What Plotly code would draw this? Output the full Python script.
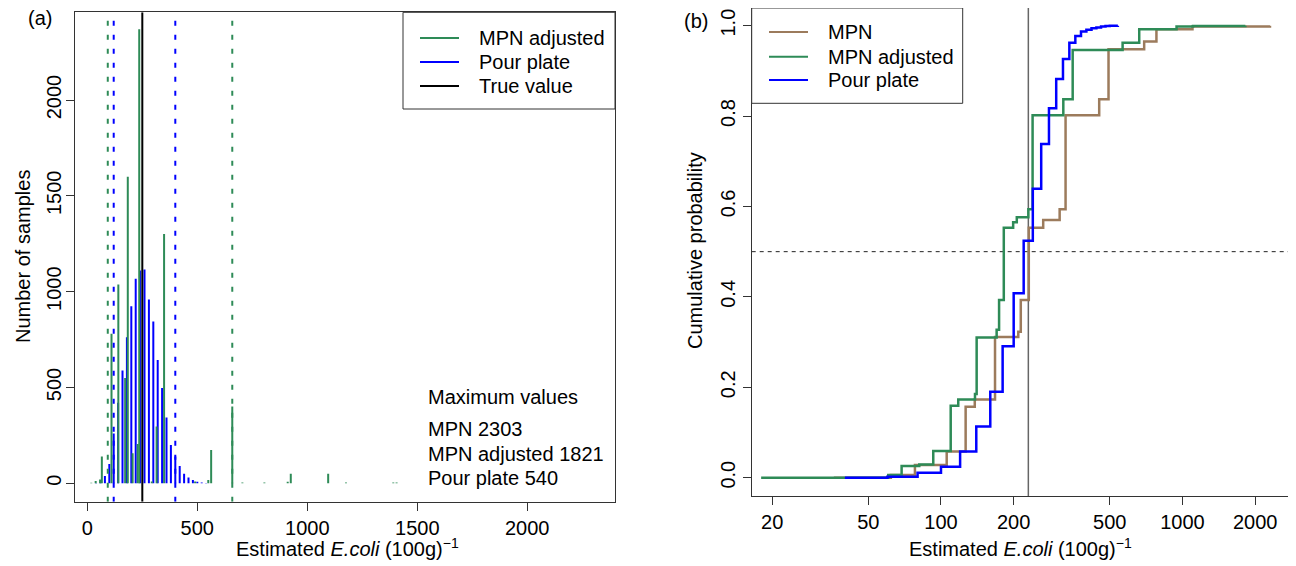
import plotly.graph_objects as go

# The page body has an 8px margin, so the figure is offset by 8px.
OFF = 8
W, H = 1296 - OFF, 566 - OFF


def px(x):
    return (x - OFF) / W


def py(y):
    return 1 - (y - OFF) / H


GREEN = "#2E8B57"
BLUE = "#0000FF"
BROWN = "#9C7B5C"
FONT = "Liberation Sans, Arial, sans-serif"
FS = 20

# ---------------- Panel (a): histogram of estimates ----------------
adj_values = [18, 38, 58, 66, 110, 141, 172, 184, 206, 229, 236, 293, 315, 349,
              490, 550, 563, 659, 705, 805, 911, 925, 1095, 1176, 1391, 1406, 1821]
adj_counts = [3, 12, 20, 140, 780, 1038, 549, 1600, 157, 205, 2370, 10, 296, 1301,
              10, 17, 174, 401, 4, 4, 8, 50, 50, 4, 4, 4, 1]

pour_values = [40, 60, 80, 100, 120, 140, 160, 180, 200, 220, 240, 260, 280, 300,
               320, 340, 360, 380, 400, 420, 440, 460, 480, 500, 520, 540]
pour_counts = [1, 5, 38, 101, 260, 420, 589, 762, 924, 1067, 1110, 1116, 959, 845,
               643, 497, 344, 200, 140, 90, 50, 30, 17, 8, 4, 2]

adj_interval = [93, 659]
pour_interval = [120, 400]
true_value_a = 250

legend_a_labels = ["MPN adjusted", "Pour plate", "True value"]
legend_b_labels = ["MPN", "MPN adjusted", "Pour plate"]
max_labels = ["Maximum values", "MPN 2303", "MPN adjusted 1821", "Pour plate 540"]

# ---------------- Panel (b): cumulative distributions ----------------
mpn_x = [36, 62, 78, 105.6, 126.5, 138, 167.4, 209, 214, 231, 265, 310, 328, 452,
         494, 694, 780, 1100, 2303]
mpn_y = [0.0, 0.006, 0.028, 0.058, 0.157, 0.173, 0.311, 0.323, 0.393, 0.553, 0.570,
         0.594, 0.802, 0.837, 0.948, 0.965, 0.992, 0.998, 1.0]

adj_x = [18, 60.5, 68.7, 81.3, 92.9, 109.7, 117.9, 138.3, 140.5, 170, 174, 182, 199,
         206, 230, 239.5, 321, 351, 565, 662, 945, 1106, 1821]
adj_y = [0.0, 0.006, 0.026, 0.029, 0.059, 0.159, 0.173, 0.185, 0.31, 0.327, 0.393,
         0.553, 0.565, 0.576, 0.594, 0.802, 0.837, 0.946, 0.962, 0.992, 0.998, 0.999, 1.0]

pour_x = [40, 60, 80, 100, 120, 140, 160, 180, 200, 220, 240, 260, 280, 300, 320,
          340, 360, 380, 400, 420, 440, 460, 480, 500, 520, 540]
pour_y = [0.0, 0.002, 0.011, 0.024, 0.058, 0.113, 0.19, 0.291, 0.408, 0.524, 0.639,
          0.738, 0.817, 0.882, 0.926, 0.962, 0.977, 0.987, 0.991, 0.994, 0.996, 0.998,
          0.999, 0.9995, 0.9998, 1.0]

true_value_b = 230

XA_RANGE = [-56, 2399]
YA_RANGE = [-96, 2458]
XB_RANGE = [1.2162, 3.4423]
YB_RANGE = [-0.0405, 1.039]


def sticks(vals, counts):
    xs, ys = [], []
    for v, c in zip(vals, counts):
        xs += [v, v, None]
        ys += [0, c, None]
    return xs, ys


fig = go.Figure()

# panel (a)
bx, by = sticks(pour_values, pour_counts)
fig.add_trace(go.Scatter(x=bx, y=by, mode="lines", line=dict(color=BLUE, width=2),
                         name="Pour plate", showlegend=False,
                         xaxis="x", yaxis="y", hoverinfo="skip"))
gx, gy = sticks(adj_values, adj_counts)
fig.add_trace(go.Scatter(x=gx, y=gy, mode="lines", line=dict(color=GREEN, width=2),
                         name="MPN adjusted", showlegend=False,
                         xaxis="x", yaxis="y", hoverinfo="skip"))
for v in adj_interval:
    fig.add_trace(go.Scatter(x=[v, v], y=YA_RANGE, mode="lines",
                             line=dict(color=GREEN, width=2, dash="5px,9px"),
                             showlegend=False, xaxis="x", yaxis="y", hoverinfo="skip"))
for v in pour_interval:
    fig.add_trace(go.Scatter(x=[v, v], y=YA_RANGE, mode="lines",
                             line=dict(color=BLUE, width=2, dash="5px,9px"),
                             showlegend=False, xaxis="x", yaxis="y", hoverinfo="skip"))
fig.add_trace(go.Scatter(x=[true_value_a, true_value_a], y=YA_RANGE, mode="lines",
                         line=dict(color="black", width=2), name="True value",
                         showlegend=False, xaxis="x", yaxis="y", hoverinfo="skip"))

# panel (b)
fig.add_trace(go.Scatter(x=[true_value_b, true_value_b], y=[-0.2, 1.2], mode="lines",
                         line=dict(color="#666666", width=1.5), showlegend=False,
                         xaxis="x2", yaxis="y2", hoverinfo="skip"))
fig.add_trace(go.Scatter(x=mpn_x, y=mpn_y, mode="lines", line_shape="hv",
                         line=dict(color=BROWN, width=2.5), name="MPN",
                         showlegend=False, xaxis="x2", yaxis="y2"))
fig.add_trace(go.Scatter(x=adj_x, y=adj_y, mode="lines", line_shape="hv",
                         line=dict(color=GREEN, width=2.5), name="MPN adjusted",
                         showlegend=False, xaxis="x2", yaxis="y2"))
fig.add_trace(go.Scatter(x=pour_x, y=pour_y, mode="lines", line_shape="hv",
                         line=dict(color=BLUE, width=2.5), name="Pour plate",
                         showlegend=False, xaxis="x2", yaxis="y2"))

axis_common = dict(showline=True, mirror=True, linecolor="#333333", linewidth=1,
                   ticks="outside", ticklen=8, tickcolor="#333333", showgrid=False,
                   zeroline=False, tickfont=dict(family=FONT, size=FS, color="black"))

tfont = dict(family=FONT, size=FS, color="black")


def ann(text, x, y, xanchor="center", angle=0):
    return dict(text=text, x=px(x), y=py(y), xref="paper", yref="paper",
                xanchor=xanchor, yanchor="middle", textangle=angle, showarrow=False,
                font=tfont)


annotations = [
    ann("(a)", 40, 18),
    ann("(b)", 696, 21),
    ann("Number of samples", 23, 257, angle=-90),
    ann("Cumulative probability", 695, 251, angle=-90),
    ann("Estimated <i>E.coli</i> (100g)<sup>\u22121</sup>", 347, 547),
    ann("Estimated <i>E.coli</i> (100g)<sup>\u22121</sup>", 1020, 547),
]
for lbl, yy in zip(max_labels, [396.7, 429, 454, 478]):
    annotations.append(ann(lbl, 426, yy, xanchor="left"))

shapes = [
    dict(type="rect", xref="paper", yref="paper", x0=px(403), x1=px(615), y0=py(109),
         y1=py(12.3), line=dict(color="#333333", width=1), fillcolor="white"),
    dict(type="rect", xref="paper", yref="paper", x0=px(751.7), x1=px(962.7), y0=py(103.3),
         y1=py(8), line=dict(color="#333333", width=1), fillcolor="white"),
    dict(type="line", xref="x2 domain", yref="y2", x0=0, x1=1, y0=0.5, y1=0.5,
         line=dict(color="#222222", width=1, dash="4px,4px"), layer="below"),
]

# legend (a) entries
for lbl, col, yy in zip(legend_a_labels, [GREEN, BLUE, "black"], [38, 62, 86]):
    shapes.append(dict(type="line", xref="paper", yref="paper", x0=px(420), x1=px(459),
                       y0=py(yy), y1=py(yy), line=dict(color=col, width=2)))
    annotations.append(ann(lbl, 477, yy, xanchor="left"))

# legend (b) entries
for lbl, col, yy in zip(legend_b_labels, [BROWN, GREEN, BLUE], [32, 56.7, 80]):
    shapes.append(dict(type="line", xref="paper", yref="paper", x0=px(769), x1=px(808),
                       y0=py(yy), y1=py(yy), line=dict(color=col, width=2)))
    annotations.append(ann(lbl, 826, yy, xanchor="left"))

fig.update_layout(
    width=W, height=H, autosize=False,
    margin=dict(l=0, r=0, t=0, b=0),
    paper_bgcolor="white", plot_bgcolor="white",
    font=tfont,
    showlegend=False,
    xaxis=dict(domain=[px(75), px(615)], range=XA_RANGE, anchor="y",
               tickvals=[0, 500, 1000, 1500, 2000], **axis_common),
    yaxis=dict(domain=[py(501.7), py(12.3)], range=YA_RANGE, anchor="x",
               tickvals=[0, 500, 1000, 1500, 2000], tickangle=-90,
               ticklabelstandoff=-3, **axis_common),
    xaxis2=dict(domain=[px(751.7), px(1289.3)], type="log", range=XB_RANGE, anchor="y2",
                tickvals=[20, 50, 100, 200, 500, 1000, 2000],
                ticktext=["20", "50", "100", "200", "500", "1000", "2000"], **axis_common),
    yaxis2=dict(domain=[py(496), py(8)], range=YB_RANGE, anchor="x2",
                tickvals=[0, 0.2, 0.4, 0.6, 0.8, 1.0],
                ticktext=["0.0", "0.2", "0.4", "0.6", "0.8", "1.0"], tickangle=-90,
                **axis_common),
    annotations=annotations,
    shapes=shapes,
)

fig.write_html("out.html")
